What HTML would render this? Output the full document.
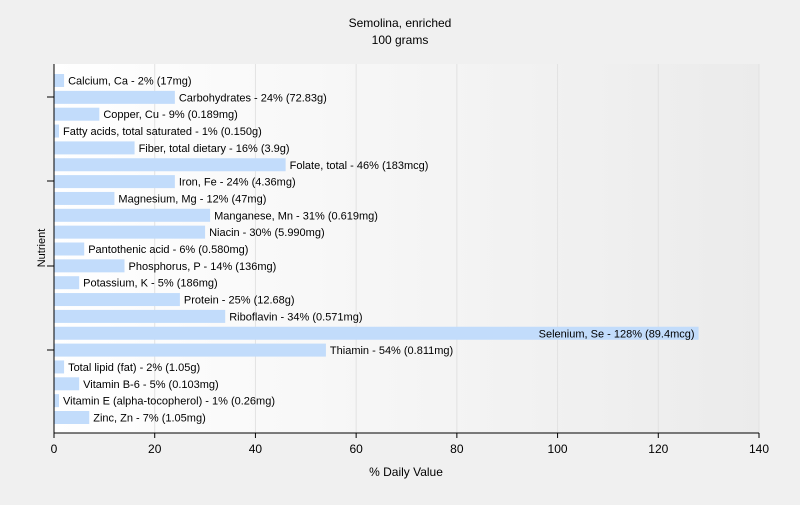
<!DOCTYPE html>
<html><head><meta charset="utf-8"><style>
body{margin:0;background:#f0f0f0;font-family:"Liberation Sans",sans-serif;}
svg text{font-family:"Liberation Sans",sans-serif;fill:#000;}
</style></head><body>
<svg id="chart" width="800" height="500" xmlns="http://www.w3.org/2000/svg">
<defs><linearGradient id="bg" x1="0" x2="1" y1="0" y2="0"><stop offset="0" stop-color="#ffffff"/><stop offset="1" stop-color="#ebebeb"/></linearGradient></defs>
<rect width="800" height="500" fill="#f0f0f0"/>
<text x="400" y="27" font-size="12" text-anchor="middle">Semolina, enriched</text>
<text x="400" y="44" font-size="12" text-anchor="middle">100 grams</text>
<rect x="54" y="64" width="705" height="369" fill="url(#bg)"/>
<g id="grid"></g><g id="bars"></g><g id="axes"></g>
<text x="406" y="476" font-size="12" text-anchor="middle">% Daily Value</text>
<text x="45" y="248" font-size="11" text-anchor="middle" transform="rotate(-90 45 248)">Nutrient</text>
</svg>
<script>
const labels=["Calcium, Ca - 2% (17mg)","Carbohydrates - 24% (72.83g)","Copper, Cu - 9% (0.189mg)","Fatty acids, total saturated - 1% (0.150g)","Fiber, total dietary - 16% (3.9g)","Folate, total - 46% (183mcg)","Iron, Fe - 24% (4.36mg)","Magnesium, Mg - 12% (47mg)","Manganese, Mn - 31% (0.619mg)","Niacin - 30% (5.990mg)","Pantothenic acid - 6% (0.580mg)","Phosphorus, P - 14% (136mg)","Potassium, K - 5% (186mg)","Protein - 25% (12.68g)","Riboflavin - 34% (0.571mg)","Selenium, Se - 128% (89.4mcg)","Thiamin - 54% (0.811mg)","Total lipid (fat) - 2% (1.05g)","Vitamin B-6 - 5% (0.103mg)","Vitamin E (alpha-tocopherol) - 1% (0.26mg)","Zinc, Zn - 7% (1.05mg)"];
const values=[2,24,9,1,16,46,24,12,31,30,6,14,5,25,34,128,54,2,5,1,7];
const xTicks=[0,20,40,60,80,100,120,140];
const NS="http://www.w3.org/2000/svg";
const x=v=>54+v*705/140;
const y=i=>80.5+i*16.85;
function mk(t,a,p){const e=document.createElementNS(NS,t);for(const k in a)e.setAttribute(k,a[k]);p.appendChild(e);return e;}
const grid=document.getElementById('grid'),bars=document.getElementById('bars'),axes=document.getElementById('axes');
xTicks.forEach(t=>{
 if(t>0){const g=mk('line',{x1:x(t),x2:x(t),y1:64,y2:433,stroke:'#e2e2e2'},grid);
 
 }
 mk('line',{x1:x(t),x2:x(t),y1:433,y2:438,stroke:'#000'},axes);
 const tx=mk('text',{x:x(t),y:453,'font-size':12,'text-anchor':'middle'},axes);tx.textContent=t;
 
 
});
values.forEach((v,i)=>{
 const r=mk('rect',{x:54,y:y(i)-6.5,width:x(v)-54,height:13,fill:'#c2dcfb'},bars);
 
 
 const t=mk('text',{x:x(v)+4,y:y(i)+4,'font-size':11},bars);t.textContent=labels[i];
 
 
 if(x(v)+4+t.getComputedTextLength()>759){t.setAttribute('x',x(v)-4);t.setAttribute('text-anchor','end');}
});
mk('line',{x1:54,x2:54,y1:64,y2:433,stroke:'#000'},axes);
mk('line',{x1:54,x2:759,y1:433,y2:433,stroke:'#000'},axes);
[97,181,266,350].forEach(t=>mk('line',{x1:47,x2:54,y1:t,y2:t,stroke:'#000'},axes));
</script>
</body></html>
